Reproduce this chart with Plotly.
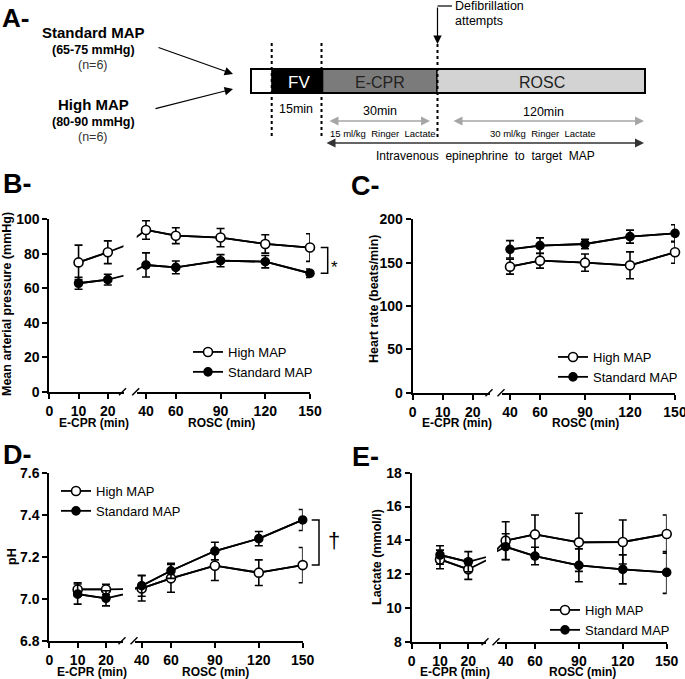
import plotly.graph_objects as go

W, H = 685, 679
FONT = "Arial, 'Liberation Sans', Helvetica, sans-serif"

# ---------------- data ----------------
t_ecpr = [10, 20]
t_rosc = [40, 60, 90, 120, 150]
ecpr_ticks = [0, 10, 20]
rosc_ticks = [40, 60, 90, 120, 150]
series_names = ["High MAP", "Standard MAP"]

map_high_ecpr = [75.0, 80.9]
map_high_ecpr_sd = [10.0, 6.6]
map_high_rosc = [93.8, 90.5, 89.4, 85.7, 83.6]
map_high_rosc_sd = [5.4, 4.6, 5.3, 5.3, 8.0]
map_std_ecpr = [62.9, 65.0]
map_std_ecpr_sd = [3.5, 3.1]
map_std_rosc = [73.5, 72.1, 76.0, 75.4, 68.7]
map_std_rosc_sd = [7.0, 3.7, 3.5, 3.6, 2.5]

hr_high_rosc = [145.4, 152.3, 150.0, 146.9, 162.0]
hr_high_rosc_sd = [8.6, 8.6, 10.0, 15.5, 12.7]
hr_std_rosc = [165.4, 169.6, 171.5, 180.0, 183.8]
hr_std_rosc_sd = [10.0, 9.0, 5.4, 7.5, 10.0]

ph_high_ecpr = [7.044, 7.044]
ph_high_ecpr_sd = [0.032, 0.024]
ph_high_rosc = [7.049, 7.097, 7.157, 7.124, 7.160]
ph_high_rosc_sd = [0.06, 0.066, 0.07, 0.061, 0.084]
ph_std_ecpr = [7.022, 7.002]
ph_std_ecpr_sd = [0.048, 0.036]
ph_std_rosc = [7.062, 7.133, 7.227, 7.286, 7.375]
ph_std_rosc_sd = [0.05, 0.036, 0.042, 0.034, 0.05]

lac_high_ecpr = [12.87, 12.28]
lac_high_ecpr_sd = [0.55, 0.59]
lac_high_rosc = [13.98, 14.35, 13.88, 13.90, 14.37]
lac_high_rosc_sd = [1.12, 1.15, 1.72, 1.30, 1.13]
lac_std_ecpr = [13.13, 12.73]
lac_std_ecpr_sd = [0.55, 0.60]
lac_std_rosc = [13.62, 13.07, 12.52, 12.28, 12.10]
lac_std_rosc_sd = [0.77, 0.52, 0.97, 0.86, 1.24]


def X(px):
    return px / W


def Y(py):
    return 1 - py / H


PANELS = [
    dict(ids=('x', 'x2', 'y'), x0=49.3, x20=107.8, s1=123.5, s2=136.7, x40=146.0, x150=310.0,
         ytop=219.3, ybot=391.7, yrange=[0, 100], yticks=[0, 20, 40, 60, 80, 100], yfmt='d',
         title='Mean arterial pressure (mmHg)', title_xy=(7, 304), legend='legend', leg_xy=(188, 337),
         label='B-', label_xy=(17, 184), xt1=(94, 423), xt2=(221, 423),
         high=(t_ecpr, map_high_ecpr, map_high_ecpr_sd, t_rosc, map_high_rosc, map_high_rosc_sd),
         std=(t_ecpr, map_std_ecpr, map_std_ecpr_sd, t_rosc, map_std_rosc, map_std_rosc_sd)),
    dict(ids=('x3', 'x4', 'y2'), x0=412.7, x20=472.7, s1=490.0, s2=502.0, x40=510.0, x150=675.0,
         ytop=219.3, ybot=392.7, yrange=[0, 200], yticks=[0, 50, 100, 150, 200], yfmt='d',
         title='Heart rate (beats/min)', title_xy=(374, 298), legend='legend2', leg_xy=(553, 342),
         label='C-', label_xy=(366, 186), xt1=(457, 423), xt2=(585, 423),
         high=([], [], [], t_rosc, hr_high_rosc, hr_high_rosc_sd),
         std=([], [], [], t_rosc, hr_std_rosc, hr_std_rosc_sd)),
    dict(ids=('x5', 'x6', 'y3'), x0=49.3, x20=106.0, s1=123.0, s2=135.0, x40=141.7, x150=302.7,
         ytop=472.7, ybot=640.7, yrange=[6.8, 7.6], yticks=[6.8, 7.0, 7.2, 7.4, 7.6], yfmt='.1f',
         title='pH', title_xy=(12, 557), legend='legend3', leg_xy=(56, 476),
         label='D-', label_xy=(17, 455), xt1=(92, 672), xt2=(215, 672),
         high=(t_ecpr, ph_high_ecpr, ph_high_ecpr_sd, t_rosc, ph_high_rosc, ph_high_rosc_sd),
         std=(t_ecpr, ph_std_ecpr, ph_std_ecpr_sd, t_rosc, ph_std_rosc, ph_std_rosc_sd)),
    dict(ids=('x7', 'x8', 'y4'), x0=411.7, x20=468.3, s1=486.0, s2=497.0, x40=505.7, x150=666.7,
         ytop=472.7, ybot=641.7, yrange=[8, 18], yticks=[8, 10, 12, 14, 16, 18], yfmt='d',
         title='Lactate (mmol/l)', title_xy=(377, 557), legend='legend4', leg_xy=(545, 595),
         label='E-', label_xy=(365, 457), xt1=(455, 672), xt2=(582, 672),
         high=(t_ecpr, lac_high_ecpr, lac_high_ecpr_sd, t_rosc, lac_high_rosc, lac_high_rosc_sd),
         std=(t_ecpr, lac_std_ecpr, lac_std_ecpr_sd, t_rosc, lac_std_rosc, lac_std_rosc_sd)),
]

fig = go.Figure()
axis_common = dict(showline=True, linecolor='black', linewidth=2, ticks='outside', ticklen=5,
                   tickwidth=2, tickcolor='black', showgrid=False, zeroline=False, fixedrange=True,
                   automargin=False, ticklabeloverflow='allow',
                   tickfont=dict(family=FONT, size=14, color='black', weight='bold'))
layout_axes = {}
shapes = []
annotations = []
legends = {}


def axname(i):
    return ('xaxis' if i[0] == 'x' else 'yaxis') + i[1:]


def add_group(p, name, data, filled):
    xa1, xa2, ya = p['ids']
    t1, v1, e1, t2, v2, e2 = data
    marker = dict(symbol='circle', size=8 if filled else 9,
                  color='black' if filled else 'white', line=dict(color='black', width=1.6))
    line = dict(color='black', width=1.8)
    t_all = list(t1) + list(t2)
    v_all = list(v1) + list(v2)
    # connecting lines, clipped to each axis segment (also creates every subplot)
    for xa in (xa1, xa2):
        fig.add_trace(go.Scatter(x=t_all, y=v_all, mode='lines', line=line, xaxis=xa, yaxis=ya,
                                 showlegend=False, hoverinfo='skip'))
    for xa, t, v, e, show in ((xa1, t1, v1, e1, False), (xa2, t2, v2, e2, True)):
        if not t:
            continue
        fig.add_trace(go.Scatter(x=t, y=v, mode='lines+markers', line=line, marker=marker,
                                 error_y=dict(type='data', array=e, color='black', thickness=1.6, width=4),
                                 xaxis=xa, yaxis=ya, cliponaxis=False, name=name,
                                 legend=p['legend'], showlegend=show))


for p in PANELS:
    xa1, xa2, ya = p['ids']
    slope1 = (p['x20'] - p['x0']) / 20.0
    slope2 = (p['x150'] - p['x40']) / 110.0
    r1 = [0, (p['s1'] - p['x0']) / slope1]
    r2 = [40 - (p['x40'] - p['s2']) / slope2, 150]
    layout_axes[axname(xa1)] = dict(axis_common, domain=[X(p['x0']), X(p['s1'])], range=r1,
                                    tickvals=ecpr_ticks, anchor=ya)
    layout_axes[axname(xa2)] = dict(axis_common, domain=[X(p['s2']), X(p['x150'])], range=r2,
                                    tickvals=rosc_ticks, anchor=ya)
    layout_axes[axname(ya)] = dict(axis_common, domain=[Y(p['ybot']), Y(p['ytop'])], range=p['yrange'],
                                   tickvals=p['yticks'], tickformat=p['yfmt'], anchor=xa1)
    add_group(p, series_names[0], p['high'], False)
    add_group(p, series_names[1], p['std'], True)
    legends[p['legend']] = dict(x=X(p['leg_xy'][0]), y=Y(p['leg_xy'][1]), xanchor='left', yanchor='top',
                                bgcolor='rgba(0,0,0,0)', font=dict(family=FONT, size=13, color='black'),
                                itemwidth=30, tracegroupgap=0, borderwidth=0)
    # axis break marks
    for c in (p['s1'] - 1, p['s2'] - 1):
        shapes.append(dict(type='line', xref='paper', yref='paper', x0=X(c - 3.5), x1=X(c + 3.5),
                           y0=Y(p['ybot'] + 3.5), y1=Y(p['ybot'] - 3.5), line=dict(color='black', width=1.5)))
    # titles
    annotations.append(dict(text=p['title'], x=X(p['title_xy'][0]), y=Y(p['title_xy'][1]), textangle=-90,
                            font=dict(family=FONT, size=12.5, color='black', weight='bold')))
    annotations.append(dict(text='E-CPR (min)', x=X(p['xt1'][0]), y=Y(p['xt1'][1]),
                            font=dict(family=FONT, size=12, color='black', weight='bold')))
    annotations.append(dict(text='ROSC (min)', x=X(p['xt2'][0]), y=Y(p['xt2'][1]),
                            font=dict(family=FONT, size=12, color='black', weight='bold')))
    annotations.append(dict(text=p['label'], x=X(p['label_xy'][0]), y=Y(p['label_xy'][1]),
                            font=dict(family=FONT, size=27, color='black', weight='bold')))

# significance brackets
shapes.append(dict(type='path', xref='paper', yref='y',
                   path=f"M{X(320.7)},{map_high_rosc[-1]} L{X(327.7)},{map_high_rosc[-1]} "
                        f"L{X(327.7)},{map_std_rosc[-1]} L{X(320.7)},{map_std_rosc[-1]}",
                   line=dict(color='black', width=1.5)))
shapes.append(dict(type='path', xref='paper', yref='y3',
                   path=f"M{X(311.7)},{ph_std_rosc[-1]} L{X(319)},{ph_std_rosc[-1]} "
                        f"L{X(319)},{ph_high_rosc[-1]} L{X(311.7)},{ph_high_rosc[-1]}",
                   line=dict(color='black', width=1.5)))
annotations.append(dict(text='*', x=X(334), y=Y(268), font=dict(family=FONT, size=17, color='black')))
annotations.append(dict(text='†', x=X(334), y=Y(540), font=dict(family=FONT, size=22, color='black')))

# ---------------- panel A schematic ----------------
def rect(x0, y0, x1, y1, fill, lw=1.2):
    return dict(type='rect', xref='paper', yref='paper', x0=X(x0), x1=X(x1), y0=Y(y1), y1=Y(y0),
                fillcolor=fill, line=dict(color='black', width=lw), layer='above')


shapes += [rect(251, 69, 272, 93, 'white'), rect(272, 69, 322.7, 93, 'black'),
           rect(322.7, 69, 437, 93, '#7b7b7b'), rect(437, 69, 645, 93, '#d3d3d3'),
           dict(type='rect', xref='paper', yref='paper', x0=X(251), x1=X(645), y0=Y(93), y1=Y(69),
                line=dict(color='black', width=2), layer='above')]
for xx, ya0, ya1 in ((271.7, 43, 136), (321.5, 43, 136), (437.5, 44, 138)):
    shapes.append(dict(type='line', xref='paper', yref='paper', x0=X(xx), x1=X(xx), y0=Y(ya0), y1=Y(ya1),
                       line=dict(color='black', width=2, dash='dot'), layer='above'))
shapes.append(dict(type='line', xref='paper', yref='paper', x0=X(437.5), x1=X(452), y0=Y(6), y1=Y(6),
                   line=dict(color='black', width=1.2)))


def arrow(hx, hy, tx, ty, color='black', width=1.2, both=False, size=1.4):
    return dict(text='', x=X(hx), y=Y(hy), ax=tx - hx, ay=ty - hy, axref='pixel', ayref='pixel',
                showarrow=True, arrowhead=2, arrowsize=size, arrowwidth=width, arrowcolor=color,
                standoff=0, startstandoff=0, arrowside='end+start' if both else 'end')


annotations += [
    arrow(233, 74, 157, 47), arrow(233, 89, 154, 109), arrow(437.5, 44, 437.5, 6),
    arrow(430, 121, 328, 121, '#a6a6a6', 1.5, True, 1.2),
    arrow(644, 121, 452, 121, '#a6a6a6', 1.5, True, 1.2),
    arrow(644, 143, 325, 143, '#333333', 1.5, True, 1.2),
]


def txt(t, x, y, size, bold=False, color='black', xanchor='center'):
    f = dict(family=FONT, size=size, color=color)
    if bold:
        f['weight'] = 'bold'
    return dict(text=t, x=X(x), y=Y(y), xanchor=xanchor, yanchor='middle', showarrow=False, font=f)


annotations += [
    txt('A-', 16, 18, 26, True),
    txt('Standard MAP', 93, 32, 15, True),
    txt('(65-75 mmHg)', 93, 50, 12.5, True),
    txt('(n=6)', 93, 65, 12.5, False, '#333333'),
    txt('High MAP', 93, 104, 15, True),
    txt('(80-90 mmHg)', 93, 122, 12.5, True),
    txt('(n=6)', 93, 137, 12.5, False, '#333333'),
    txt('FV', 299, 82, 17, False, 'white'),
    txt('E-CPR', 380, 82, 16, False, '#222222'),
    txt('ROSC', 542, 82, 16, False, '#222222'),
    txt('15min', 296, 109, 12.5),
    txt('30min', 380, 111, 12.5),
    txt('120min', 543, 112, 12.5),
    txt('15 ml/kg\u00a0 Ringer\u00a0 Lactate', 383, 134, 9.5),
    txt('30 ml/kg\u00a0 Ringer\u00a0 Lactate', 543, 134, 9.5),
    txt('Intravenous\u00a0 epinephrine\u00a0 to\u00a0 target\u00a0 MAP', 485, 156, 12),
    txt('Defibrillation', 453, 6, 12.5, xanchor='left'),
    txt('attempts', 453, 21, 12.5, xanchor='left'),
]

for a in annotations:
    a.setdefault('xref', 'paper')
    a.setdefault('yref', 'paper')
    a.setdefault('showarrow', False)
    a.setdefault('xanchor', 'center')
    a.setdefault('yanchor', 'middle')

fig.update_layout(template='none', width=W, height=H, margin=dict(l=0, r=0, t=0, b=0, autoexpand=False),
                  paper_bgcolor='white', plot_bgcolor='rgba(0,0,0,0)', font=dict(family=FONT, color='black'),
                  shapes=shapes, annotations=annotations, **layout_axes, **legends)

fig.write_html("out.html", config={'displayModeBar': False},
               post_script="document.body.style.margin='0px';")
